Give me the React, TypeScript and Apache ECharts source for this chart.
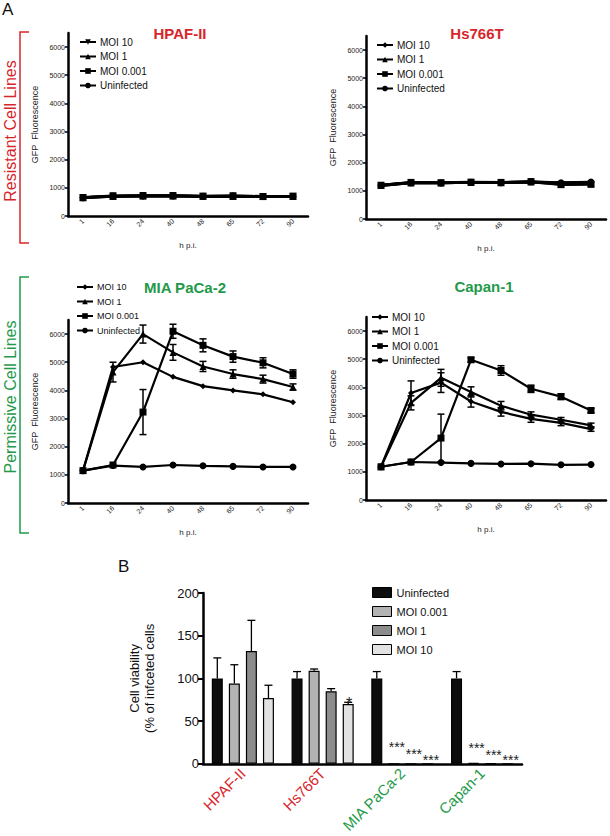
import React, { useEffect, useRef } from 'react';
import * as echarts from 'echarts';

// ---------- DATA ----------
const HPI = ['1', '16', '24', '40', '48', '65', '72', '90'];
const LINE_NAMES = ['MOI 10', 'MOI 1', 'MOI 0.001', 'Uninfected'];

// HPAF-II (GFP fluorescence)
const hpafMoi10 = [660, 715, 725, 725, 705, 715, 695, 700];
const hpafMoi1 = [650, 705, 715, 715, 700, 705, 690, 690];
const hpafMoi0001 = [655, 700, 710, 712, 700, 700, 690, 700];
const hpafUninf = [650, 700, 710, 710, 700, 705, 690, 690];

// Hs766T
const hsMoi10 = [1200, 1290, 1280, 1300, 1290, 1320, 1280, 1300];
const hsMoi1 = [1190, 1280, 1280, 1300, 1290, 1310, 1240, 1260];
const hsMoi0001 = [1200, 1300, 1290, 1310, 1300, 1330, 1220, 1230];
const hsUninf = [1190, 1290, 1280, 1300, 1290, 1320, 1290, 1310];

// MIA PaCa-2
const miaMoi10 = [1150, 4830, 5000, 4480, 4150, 4000, 3860, 3580];
const miaMoi1 = [1150, 4650, 6000, 5350, 4850, 4580, 4400, 4120];
const miaMoi0001 = [1150, 1350, 3230, 6100, 5600, 5200, 4980, 4580];
const miaUninf = [1150, 1330, 1280, 1350, 1320, 1300, 1280, 1280];
const miaMoi10Err = [0, 0, 0, 0, 0, 0, 0, 0];
const miaMoi1Err = [0, 350, 320, 280, 180, 150, 140, 110];
const miaMoi0001Err = [0, 0, 800, 250, 230, 200, 180, 150];
const miaUninfErr = [0, 0, 0, 0, 0, 0, 0, 0];

// Capan-1
const capMoi10 = [1180, 3800, 4170, 3500, 3130, 2880, 2740, 2520];
const capMoi1 = [1180, 3450, 4340, 3840, 3350, 3030, 2850, 2650];
const capMoi0001 = [1180, 1350, 2200, 4980, 4600, 3950, 3670, 3180];
const capUninf = [1180, 1350, 1330, 1300, 1280, 1290, 1250, 1260];
const capMoi10Err = [0, 430, 350, 200, 150, 120, 100, 80];
const capMoi1Err = [0, 250, 300, 180, 150, 100, 80, 80];
const capMoi0001Err = [0, 0, 850, 80, 170, 130, 100, 80];
const capUninfErr = [0, 0, 0, 0, 0, 0, 0, 0];

const ZERO8 = [0, 0, 0, 0, 0, 0, 0, 0];

// Panel B: cell viability
const GROUPS = ['HPAF-II', 'Hs766T', 'MIA PaCa-2', 'Capan-1'];
const BAR_NAMES = ['Uninfected', 'MOI 0.001', 'MOI 1', 'MOI 10'];
const viabUninf = [100, 100, 100, 100];
const viabMoi0001 = [94, 109, 0, 1];
const viabMoi1 = [132, 85, 0, 0.5];
const viabMoi10 = [77, 70, 0, 0];
const errUninf = [24, 8, 8, 8];
const errMoi0001 = [22, 2, 0, 0];
const errMoi1 = [36, 3, 0, 0];
const errMoi10 = [15, 2, 0, 0];
const sigUninf = ['', '', '', ''];
const sigMoi0001 = ['', '', '***', '***'];
const sigMoi1 = ['', '', '***', '***'];
const sigMoi10 = ['', '*', '***', '***'];

// ---------- STYLE ----------
const RED = '#d7262b';
const GREEN = '#1f9a4a';
const FONT = "'Liberation Sans', Arial, Helvetica, sans-serif";
const INV_TRI = 'path://M0,0L10,0L5,9Z';

const panels = [
  { title: 'HPAF-II', color: RED, left: 68, top: 33, tx: 180, ty: 33, lgLeft: 79, lgTop: 37, lgFont: 10, lw: 2.8,
    data: [hpafMoi10, hpafMoi1, hpafMoi0001, hpafUninf], err: [ZERO8, ZERO8, ZERO8, ZERO8], sym10: INV_TRI },
  { title: 'Hs766T', color: RED, left: 366, top: 36, tx: 477, ty: 33, lgLeft: 376, lgTop: 40, lgFont: 10, lw: 2.8,
    data: [hsMoi10, hsMoi1, hsMoi0001, hsUninf], err: [ZERO8, ZERO8, ZERO8, ZERO8], sym10: 'diamond' },
  { title: 'MIA PaCa-2', color: GREEN, left: 68, top: 320, tx: 185, ty: 287, lgLeft: 76, lgTop: 282, lgFont: 9, lw: 2.2,
    data: [miaMoi10, miaMoi1, miaMoi0001, miaUninf], err: [miaMoi10Err, miaMoi1Err, miaMoi0001Err, miaUninfErr], sym10: 'diamond' },
  { title: 'Capan-1', color: GREEN, left: 366, top: 317, tx: 484, ty: 286, lgLeft: 371, lgTop: 312, lgFont: 10, lw: 2.2,
    data: [capMoi10, capMoi1, capMoi0001, capUninf], err: [capMoi10Err, capMoi1Err, capMoi0001Err, capUninfErr], sym10: 'diamond' },
];

function buildOption() {
  const grid: any[] = [];
  const xAxis: any[] = [];
  const yAxis: any[] = [];
  const series: any[] = [];
  const legend: any[] = [];
  const graphic: any[] = [];

  panels.forEach((p, pi) => {
    grid.push({ left: p.left, top: p.top, width: 240, height: 183 });
    xAxis.push({
      type: 'category', gridIndex: pi, data: HPI, boundaryGap: true,
      name: 'h p.i.', nameLocation: 'middle', nameGap: 25,
      nameTextStyle: { fontSize: 8, color: '#222', fontFamily: FONT },
      axisLine: { lineStyle: { color: '#000', width: 2.5 } },
      axisTick: { alignWithLabel: true, length: 4, lineStyle: { width: 2, color: '#000' } },
      axisLabel: { rotate: 45, fontSize: 7, color: '#222', margin: 4, interval: 0, fontFamily: FONT },
      splitLine: { show: false },
    });
    yAxis.push({
      type: 'value', gridIndex: pi, min: 0, max: 6500, interval: 1000,
      name: 'GFP  Fluorescence', nameLocation: 'middle', nameGap: 29,
      nameTextStyle: { fontSize: 9, color: '#222', fontFamily: FONT },
      axisLine: { show: true, lineStyle: { color: '#000', width: 2.5 } },
      axisTick: { show: true, length: 3, lineStyle: { width: 1.5, color: '#000' } },
      axisLabel: { fontSize: 7, color: '#222', margin: 3, showMaxLabel: false, fontFamily: FONT,
        formatter: (v: number) => (v > 6000 ? '' : String(v)) },
      splitLine: { show: false },
    });
    const symbols = [p.sym10, 'triangle', 'rect', 'circle'];
    LINE_NAMES.forEach((n, j) => {
      series.push({
        type: 'line', name: `${p.title}|${n}`, xAxisIndex: pi, yAxisIndex: pi,
        data: p.data[j], symbol: symbols[j], symbolSize: j === 0 && pi > 0 ? 6 : 7,
        lineStyle: { color: '#000', width: p.lw }, itemStyle: { color: '#000' },
        z: 3,
      });
      const errData = p.data[j]
        .map((v, i) => (p.err[j][i] > 0 ? [i, v - p.err[j][i], v + p.err[j][i]] : null))
        .filter((d) => d !== null);
      if (errData.length) {
        series.push({
          type: 'custom', xAxisIndex: pi, yAxisIndex: pi, data: errData, z: 4,
          renderItem: (params: any, api: any) => {
            const lo = api.coord([api.value(0), api.value(1)]);
            const hi = api.coord([api.value(0), api.value(2)]);
            const cx = lo[0];
            const w = 3.5;
            const st = { stroke: '#000', lineWidth: 1.5 };
            return {
              type: 'group',
              children: [
                { type: 'line', shape: { x1: cx, y1: lo[1], x2: cx, y2: hi[1] }, style: st },
                { type: 'line', shape: { x1: cx - w, y1: lo[1], x2: cx + w, y2: lo[1] }, style: st },
                { type: 'line', shape: { x1: cx - w, y1: hi[1], x2: cx + w, y2: hi[1] }, style: st },
              ],
            };
          },
        });
      }
    });
    legend.push({
      orient: 'vertical', left: p.lgLeft, top: p.lgTop, padding: 0,
      itemWidth: 16, itemHeight: 7, itemGap: 4.5, selectedMode: false,
      data: LINE_NAMES.map((n) => `${p.title}|${n}`),
      formatter: (name: string) => name.split('|')[1],
      textStyle: { fontSize: p.lgFont, color: '#111', lineHeight: 10, fontFamily: FONT, padding: [0, 0, 0, -1] },
    });
    graphic.push({
      type: 'text', x: p.tx, y: p.ty,
      style: { text: p.title, fill: p.color, fontSize: 15, fontWeight: 'bold', fontFamily: FONT,
        textAlign: 'center', textVerticalAlign: 'middle' },
    });
  });

  // Panel B
  const bi = panels.length;
  grid.push({ left: 203, top: 593, width: 319, height: 171 });
  xAxis.push({
    type: 'category', gridIndex: bi, data: GROUPS, boundaryGap: true,
    axisLine: { lineStyle: { color: '#000', width: 2.5 } },
    axisTick: { alignWithLabel: true, length: 5, lineStyle: { width: 2, color: '#000' } },
    axisLabel: { rotate: 45, fontSize: 15, margin: 7, interval: 0, fontFamily: FONT,
      color: (v: string, i: number) => (i < 2 ? RED : GREEN) },
  });
  yAxis.push({
    type: 'value', gridIndex: bi, min: 0, max: 200, interval: 50,
    name: 'Cell viability\n(% of infceted cells', nameLocation: 'middle', nameGap: 46,
    nameTextStyle: { fontSize: 13, color: '#111', lineHeight: 15, fontFamily: FONT },
    axisLine: { show: true, lineStyle: { color: '#000', width: 2.5 } },
    axisTick: { show: true, length: 5, lineStyle: { width: 2, color: '#000' } },
    axisLabel: { fontSize: 13, color: '#111', margin: 4, fontFamily: FONT },
    splitLine: { show: false },
  });
  const barVals = [viabUninf, viabMoi0001, viabMoi1, viabMoi10];
  const barErrs = [errUninf, errMoi0001, errMoi1, errMoi10];
  const barSigs = [sigUninf, sigMoi0001, sigMoi1, sigMoi10];
  const barColors = ['#0d0d0d', '#b3b3b3', '#8c8c8c', '#e2e2e2'];
  const starDy = [0, -9, -2, 4];
  BAR_NAMES.forEach((n, j) => {
    series.push({
      type: 'bar', name: n, xAxisIndex: bi, yAxisIndex: bi, barWidth: 11, barGap: '55%',
      itemStyle: { color: barColors[j], borderColor: '#000', borderWidth: 1.2 },
      data: barVals[j].map((v, i) => ({
        value: v,
        label: {
          show: barSigs[j][i] !== '', formatter: barSigs[j][i], position: 'top', distance: 0,
          offset: barSigs[j][i] === '*' ? [1, 7] : [3, starDy[j] + (v > 0 ? 1 : 0)],
          fontSize: barSigs[j][i] === '*' ? 16 : 14, color: '#222', fontFamily: FONT,
        },
      })),
      z: 2,
    });
    const eData = barVals[j]
      .map((v, i) => (barErrs[j][i] > 0 ? [i, v, v + barErrs[j][i]] : null))
      .filter((d) => d !== null);
    if (eData.length) {
      series.push({
        type: 'custom', xAxisIndex: bi, yAxisIndex: bi, data: eData, z: 1,
        renderItem: (params: any, api: any) => {
          const lo = api.coord([api.value(0), api.value(1)]);
          const hi = api.coord([api.value(0), api.value(2)]);
          const cx = lo[0] + (j - 1.5) * 17.05;
          const st = { stroke: '#000', lineWidth: 1.3 };
          return {
            type: 'group',
            children: [
              { type: 'line', shape: { x1: cx, y1: lo[1], x2: cx, y2: hi[1] }, style: st },
              { type: 'line', shape: { x1: cx - 4, y1: hi[1], x2: cx + 4, y2: hi[1] }, style: st },
            ],
          };
        },
      });
    }
  });
  legend.push({
    orient: 'vertical', left: 372, top: 587, padding: 0, icon: 'rect',
    itemWidth: 19, itemHeight: 10, itemGap: 8, selectedMode: false,
    data: BAR_NAMES,
    itemStyle: { borderColor: '#000', borderWidth: 1 },
    textStyle: { fontSize: 11, color: '#111', lineHeight: 11, fontFamily: FONT },
  });

  // Decorations
  graphic.push(
    { type: 'text', x: 2, y: 1, style: { text: 'A', fontSize: 17, fill: '#111', fontFamily: FONT } },
    { type: 'text', x: 118, y: 558, style: { text: 'B', fontSize: 17, fill: '#111', fontFamily: FONT } },
    { type: 'polyline', shape: { points: [[29, 32], [20, 32], [20, 243], [29, 243]] },
      style: { stroke: RED, lineWidth: 1.5, fill: 'none' } },
    { type: 'polyline', shape: { points: [[29, 277], [20, 277], [20, 533], [29, 533]] },
      style: { stroke: GREEN, lineWidth: 1.5, fill: 'none' } },
    { type: 'text', x: 10, y: 131, rotation: Math.PI / 2,
      style: { text: 'Resistant Cell Lines', fontSize: 16, fill: RED, fontFamily: FONT,
        textAlign: 'center', textVerticalAlign: 'middle' } },
    { type: 'text', x: 10, y: 397, rotation: Math.PI / 2,
      style: { text: 'Permissive Cell Lines', fontSize: 16, fill: GREEN, fontFamily: FONT,
        textAlign: 'center', textVerticalAlign: 'middle' } },
  );

  return {
    animation: false,
    backgroundColor: '#fff',
    textStyle: { fontFamily: FONT },
    grid, xAxis, yAxis, series, legend, graphic,
  };
}

export default function App() {
  const ref = useRef<HTMLDivElement>(null);
  useEffect(() => {
    if (!ref.current) return;
    const chart = echarts.init(ref.current, null, { renderer: 'svg' });
    chart.setOption(buildOption() as any);
    return () => chart.dispose();
  }, []);
  return (
    <div
      ref={ref}
      style={{ position: 'fixed', left: 0, top: 0, width: 610, height: 836, background: '#fff' }}
    />
  );
}
